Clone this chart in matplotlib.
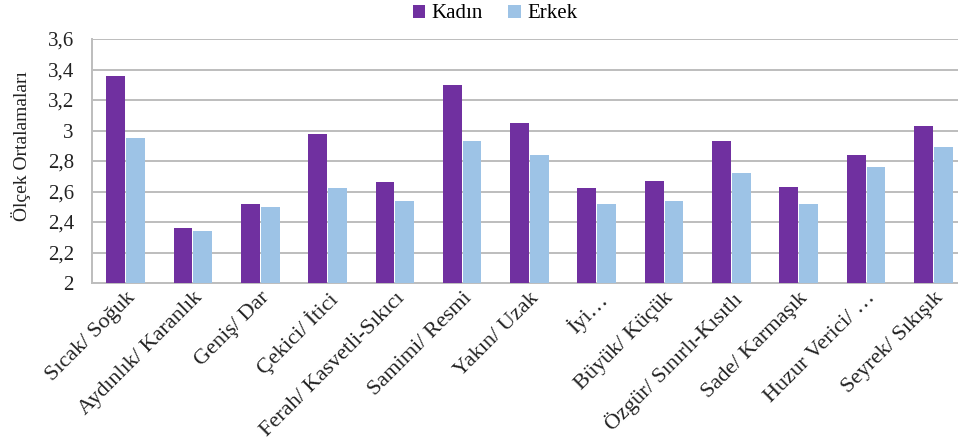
import matplotlib
matplotlib.use("Agg")
import matplotlib.pyplot as plt
import numpy as np

categories = [
    "Sıcak/ Soğuk", "Aydınlık/ Karanlık", "Geniş/ Dar", "Çekici/ İtici",
    "Ferah/ Kasvetli-Sıkıcı", "Samimi/ Resmi", "Yakın/ Uzak", "İyi…",
    "Büyük/ Küçük", "Özgür/ Sınırlı-Kısıtlı", "Sade/ Karmaşık",
    "Huzur Verici/ …", "Seyrek/ Sıkışık",
]
kadin = [3.36, 2.36, 2.52, 2.98, 2.66, 3.30, 3.05, 2.62, 2.67, 2.93, 2.63, 2.84, 3.03]
erkek = [2.95, 2.34, 2.50, 2.62, 2.54, 2.93, 2.84, 2.52, 2.54, 2.72, 2.52, 2.76, 2.89]
y_ticks = [2.0, 2.2, 2.4, 2.6, 2.8, 3.0, 3.2, 3.4, 3.6]
y_tick_labels = ["2", "2,2", "2,4", "2,6", "2,8", "3", "3,2", "3,4", "3,6"]

plt.rcParams["font.family"] = ["Liberation Serif", "DejaVu Serif"]

fig = plt.figure(figsize=(9.58, 4.48), dpi=100)
ax = fig.add_axes([0.0960, 0.3683, 0.9134, 0.5446])

x = np.arange(len(categories))
w = 0.28
c_k = "#7030A0"
c_e = "#9DC3E6"
ax.bar(x - 0.147, np.array(kadin) - 2, w, bottom=2, color=c_k, label="Kadın", zorder=3)
ax.bar(x + 0.147, np.array(erkek) - 2, w, bottom=2, color=c_e, label="Erkek", zorder=3)

ax.set_xlim(-0.5, len(categories) - 0.5)
ax.set_ylim(2, 3.6)
ax.set_yticks(y_ticks)
ax.set_yticklabels(y_tick_labels, fontsize=15)
ax.yaxis.grid(True, color="#BDBDBD", linewidth=1.4, zorder=0)
ax.tick_params(axis="y", length=0, pad=13, colors="#222222")
ax.tick_params(axis="x", length=0, pad=4)

ax.set_xticks(x)
ax.set_xticklabels(categories, rotation=45, ha="right", rotation_mode="anchor",
                   fontsize=16, color="#222222")

for s in ["top", "right"]:
    ax.spines[s].set_visible(False)
for s in ["left", "bottom"]:
    ax.spines[s].set_color("#BDBDBD")
    ax.spines[s].set_linewidth(1.4)

ax.set_ylabel("Ölçek Ortalamaları", fontsize=14, color="#222222")
ax.yaxis.set_label_coords(-0.070, 0.56)

fig.legend(loc="center", bbox_to_anchor=(495 / 958, 1 - 14 / 448), ncol=2,
           frameon=False, fontsize=15, handlelength=0.6, handleheight=0.6,
           handletextpad=0.3, columnspacing=1.2)

fig.savefig("out.png", dpi=100)
